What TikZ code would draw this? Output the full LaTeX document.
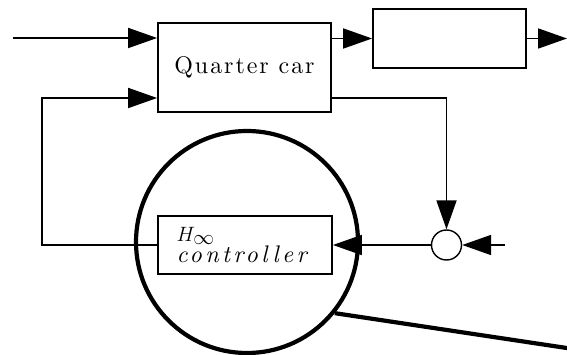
\documentclass[tikz,border=0pt]{standalone}
\usepackage{fontspec}
\usetikzlibrary{arrows.meta}
\newfontfamily\qcfont{lmroman10-regular.otf}[LetterSpace=8]
\newfontfamily\ctfont{lmroman10-italic.otf}[LetterSpace=14]
\begin{document}
\begin{tikzpicture}[x=1pt,y=-1pt, line width=1.8pt,
  >={Triangle[length=29pt,width=20pt]},
  box/.style={draw, line width=1.8pt, inner sep=0pt},
  thickline/.style={line width=4.2pt}]
\useasboundingbox (0,0) rectangle (567,355);
\node[box, minimum width=173pt, minimum height=89pt] (qc) at (244.5,67.5)
  {\fontsize{24}{28}\selectfont\qcfont Quarter car};
\node[box, minimum width=153pt, minimum height=59pt] (blk) at (449.5,38.5) {};
\node[box, minimum width=174pt, minimum height=58pt, text width=137pt, inner xsep=18pt, align=left] (ctrl) at (245,245)
  {\fontsize{22}{26}\selectfont $H_{\textstyle\infty}$\\\fontsize{24}{26}\selectfont\ctfont controller};
\node[draw, circle, line width=1.4pt, minimum size=30pt, inner sep=0pt] (sum) at (446.5,245) {};
\coordinate (in) at (13,38);
\coordinate (out) at (567,38.5);
\coordinate (fl) at (42,98);
\coordinate (fr) at (446.5,98);
\coordinate (rin) at (505,245);
\coordinate (tail) at (572,348.8);
\draw[->] (in) -- (in -| qc.west);
\draw[->] (qc.east |- blk.west) -- (blk.west);
\draw[->] (blk.east) -- (out);
\draw[->] (ctrl.west) -- (ctrl.west -| fl) -- (fl) -- (fl -| qc.west);
\draw[->] (fr -| qc.east) -- (fr) -- (sum.north);
\draw[->] (rin) -- (sum.east);
\draw[->] (sum.west) -- (ctrl.east);
\node[draw, circle, thickline, minimum size=222pt, inner sep=0pt] (big) at (247,242) {};
\draw[thickline] (big.-39) -- (tail);
\end{tikzpicture}
\end{document}
